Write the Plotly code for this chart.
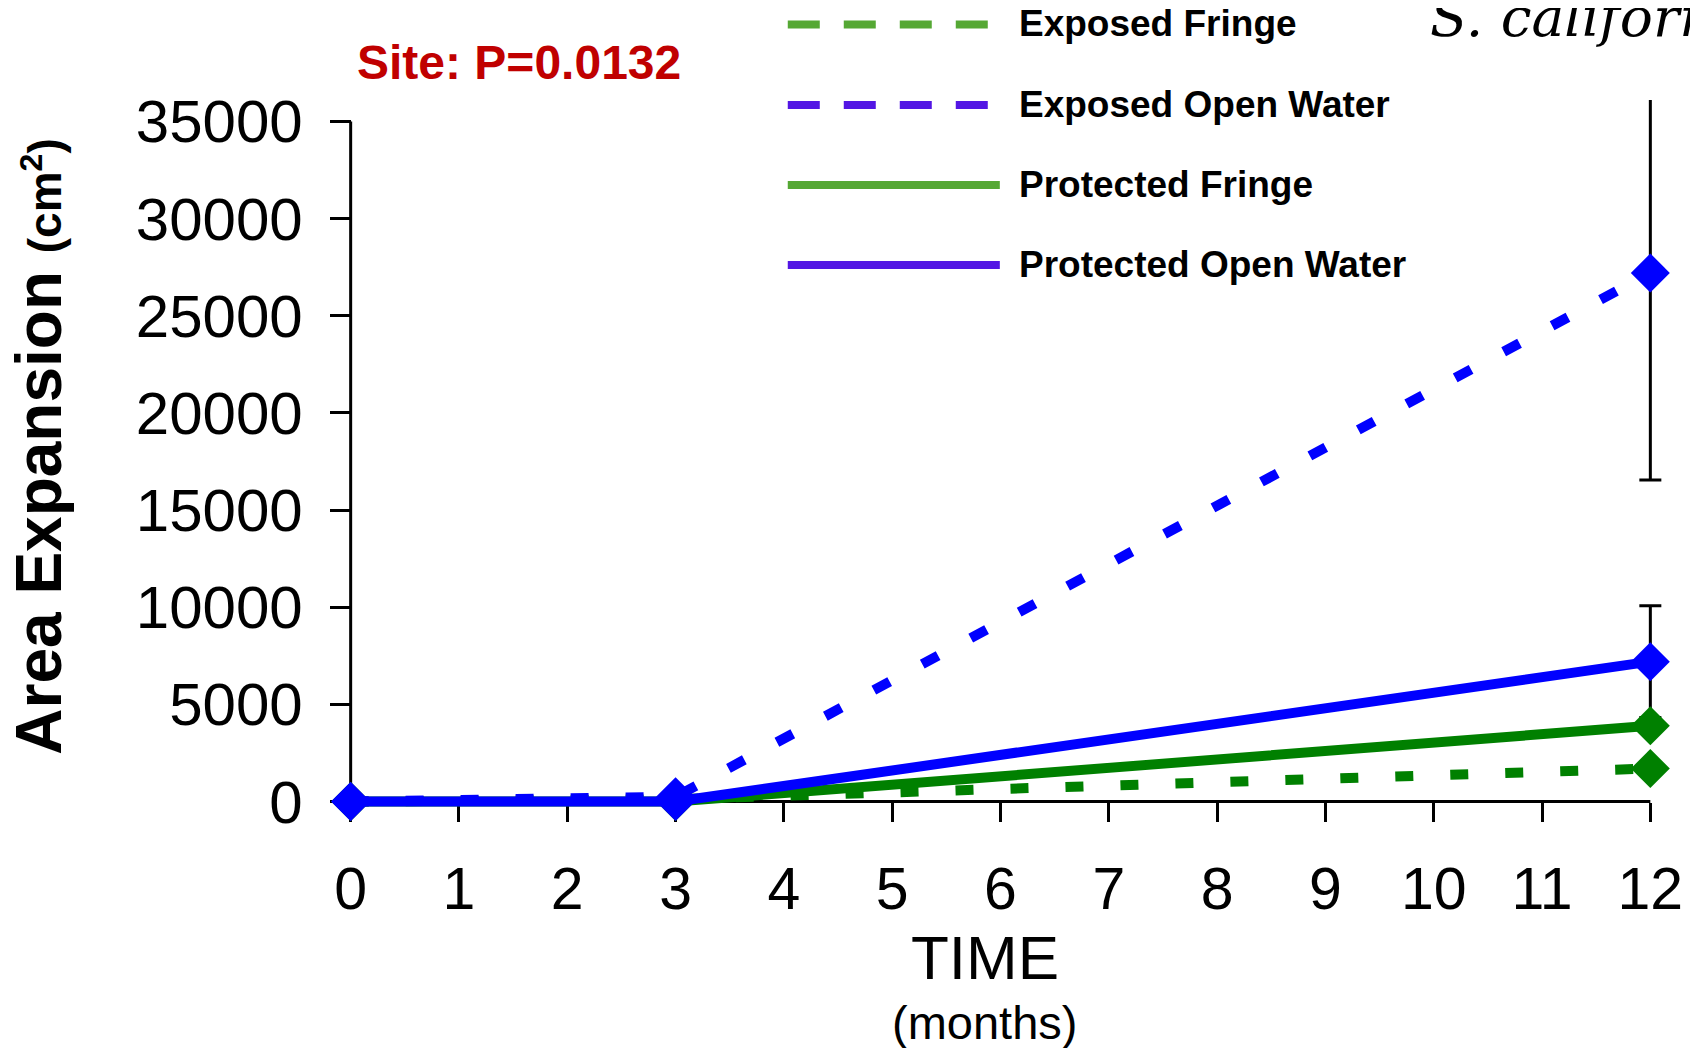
import plotly.graph_objects as go

# ---------------- data ----------------
months = [0, 3, 12]
exposed_fringe = [0, 120, 1700]
exposed_open_water = [0, 250, 27200]
protected_fringe = [0, 0, 3900]
protected_open_water = [0, 0, 7200]
exposed_open_water_err = [0, 0, 10650]
protected_open_water_err = [0, 0, 2870]

x_ticks = list(range(0, 13))
y_ticks = [0, 5000, 10000, 15000, 20000, 25000, 30000, 35000]

legend_names = ["Exposed Fringe", "Exposed Open Water", "Protected Fringe", "Protected Open Water"]
legend_colors = ["#55A834", "#5316E4", "#55A834", "#5316E4"]
legend_dash = ["32px,24px", "32px,24px", "solid", "solid"]

# ---------------- geometry (screen pixels) ----------------
W, H = 1698, 1048
OFF = 8                # page body margin
X0_PX = 351.0 - OFF    # pixel of month 0 inside the figure
PX_PER_MONTH = 108.28
Y0_PX = 801.4 - OFF    # pixel of value 0 inside the figure
PX_PER_UNIT = 680.1 / 35000
XR = [-0.2, 12.2]
YR = [-1000, 36100]

L = X0_PX + XR[0] * PX_PER_MONTH
R = X0_PX + XR[1] * PX_PER_MONTH
T = Y0_PX - YR[1] * PX_PER_UNIT
B = Y0_PX - YR[0] * PX_PER_UNIT


def pxx(px):
    return (px - OFF - L) / (R - L)


def pxy(py):
    return (B - (py - OFF)) / (B - T)


BLUE = "#0000FF"
GREEN = "#008000"
FONT = "Liberation Sans, Arial, sans-serif"
MS = 30

fig = go.Figure()

# error bars first (drawn beneath all markers)
for y, err in [(exposed_open_water, exposed_open_water_err),
               (protected_open_water, protected_open_water_err)]:
    fig.add_trace(go.Scatter(
        x=months, y=y, mode="markers",
        marker=dict(size=1, opacity=0),
        error_y=dict(type="data", array=err, visible=True, color="black",
                     thickness=3, width=11),
        showlegend=False, hoverinfo="skip"))

series = [
    (exposed_fringe, GREEN, "18px,37px"),
    (protected_fringe, GREEN, "solid"),
    (exposed_open_water, BLUE, "18px,37px"),
    (protected_open_water, BLUE, "solid"),
]
for y, col, dash in series:
    fig.add_trace(go.Scatter(
        x=months, y=y, mode="lines+markers",
        line=dict(color=col, width=10, dash=dash),
        marker=dict(symbol="diamond", size=MS, color=col, line=dict(width=0)),
        cliponaxis=False, showlegend=False))

shapes = [
    # axis lines
    dict(type="line", xref="x", yref="y", x0=0, x1=0, y0=0, y1=35000,
         line=dict(color="black", width=3), layer="below"),
    dict(type="line", xref="x", yref="y", x0=0, x1=12, y0=0, y1=0,
         line=dict(color="black", width=3), layer="below"),
]

annotations = []
leg_y = [24.5, 105, 185, 265]
for name, col, dash, ly in zip(legend_names, legend_colors, legend_dash, leg_y):
    shapes.append(dict(type="line", xref="paper", yref="paper",
                       x0=pxx(788), x1=pxx(1000), y0=pxy(ly), y1=pxy(ly),
                       line=dict(color=col, width=8, dash=dash)))
    annotations.append(dict(text=name, xref="paper", yref="paper",
                            x=pxx(1017), y=pxy(ly - 1), xanchor="left", yanchor="middle",
                            showarrow=False,
                            font=dict(family=FONT, size=37, color="black", weight="bold")))

annotations += [
    dict(text="Site: P=0.0132", xref="paper", yref="paper", x=pxx(519), y=pxy(62),
         xanchor="center", yanchor="middle", showarrow=False,
         font=dict(family=FONT, size=48, color="#C00000", weight="bold")),
    dict(text="S. californica", xref="paper", yref="paper", x=pxx(1428), y=pxy(17),
         xanchor="left", yanchor="middle", showarrow=False,
         font=dict(family="DejaVu Serif, Liberation Serif, serif", size=55, color="black",
                   style="italic")),
    dict(text="TIME", xref="paper", yref="paper", x=pxx(985), y=pxy(957),
         xanchor="center", yanchor="middle", showarrow=False,
         font=dict(family=FONT, size=62, color="black")),
    dict(text="(months)", xref="paper", yref="paper", x=pxx(985), y=pxy(1022),
         xanchor="center", yanchor="middle", showarrow=False,
         font=dict(family=FONT, size=47, color="black")),
    dict(text="Area Expansion <span style='font-size:46px'>(cm<sup>2</sup>)</span>",
         xref="paper", yref="paper", x=pxx(40), y=pxy(446), textangle=-90,
         xanchor="center", yanchor="middle", showarrow=False,
         font=dict(family=FONT, size=64, color="black", weight="bold")),
]

fig.update_layout(
    width=W, height=H,
    margin=dict(l=L, r=W - R, t=T, b=H - B, pad=0),
    paper_bgcolor="white", plot_bgcolor="white",
    showlegend=False,
    shapes=shapes, annotations=annotations,
    xaxis=dict(range=XR, tickvals=x_ticks, ticktext=[str(v) for v in x_ticks],
               showgrid=False, zeroline=False, showline=False,
               anchor="free", position=(0 - YR[0]) / (YR[1] - YR[0]),
               ticks="outside", ticklen=19, tickwidth=3, tickcolor="black",
               ticklabelstandoff=17,
               tickfont=dict(family=FONT, size=59, color="black"),
               layer="below traces"),
    yaxis=dict(range=YR, tickvals=y_ticks, ticktext=[str(v) for v in y_ticks],
               showgrid=False, zeroline=False, showline=False,
               anchor="free", position=(0 - XR[0]) / (XR[1] - XR[0]),
               ticks="outside", ticklen=21, tickwidth=3, tickcolor="black",
               ticklabelstandoff=15,
               tickfont=dict(family=FONT, size=60, color="black"),
               layer="below traces"),
)

fig.write_html("out.html")
